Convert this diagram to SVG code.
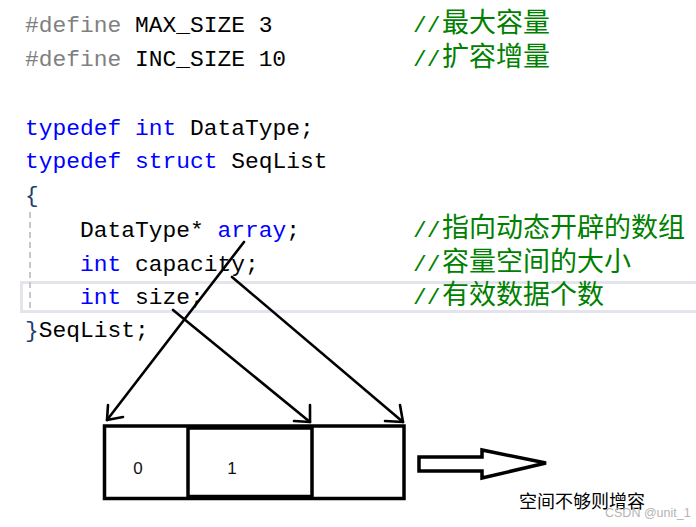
<svg xmlns="http://www.w3.org/2000/svg" width="696" height="527" viewBox="0 0 696 527">
<style>
.code{font-family:"Liberation Mono","DejaVu Sans Mono",monospace;font-size:22.9px;fill:#000}
.pp{fill:#808080}
.kw{fill:#0000ff}
.br{fill:#1f3d6e}
.cm{fill:#008000}
.cjk{font-family:"Noto Sans CJK SC",sans-serif;font-size:27px;fill:#008000}
.ln{stroke:#000;stroke-width:2.6;fill:none;stroke-linecap:round;stroke-linejoin:round}
.box{stroke:#000;stroke-width:3.5;fill:none}
.num{font-family:"Liberation Sans",Arial,sans-serif;font-size:17px;fill:#111;text-anchor:middle}
</style>
<rect width="696" height="527" fill="#fff"/>
<g id="code">
<rect x="21.5" y="282.5" width="680" height="29" fill="none" stroke="#e4e4ec" stroke-width="3"/>
<line x1="30" y1="212" x2="30" y2="312" stroke="#c8c8c8" stroke-width="2" stroke-dasharray="6 4"/>
<text class="code" y="32"><tspan class="pp" x="25">#define</tspan><tspan x="135">MAX_SIZE 3</tspan></text>
<text class="code cm" x="413" y="32">//<tspan class="cjk" dx="1.5">最大容量</tspan></text>
<text class="code" y="65.5"><tspan class="pp" x="25">#define</tspan><tspan x="135">INC_SIZE 10</tspan></text>
<text class="code cm" x="413" y="65.5">//<tspan class="cjk" dx="1.5">扩容增量</tspan></text>
<text class="code" y="135"><tspan class="kw" x="25">typedef</tspan><tspan class="kw" x="135">int</tspan><tspan x="190">DataType;</tspan></text>
<text class="code" y="168"><tspan class="kw" x="25">typedef</tspan><tspan class="kw" x="135">struct</tspan><tspan x="231.25">SeqList</tspan></text>
<text class="code br" x="25" y="202">{</text>
<text class="code" y="237"><tspan x="80">DataType*</tspan><tspan class="kw" x="217.5">array</tspan><tspan x="286.25">;</tspan></text>
<text class="code cm" x="413" y="237">//<tspan class="cjk" dx="1.5">指向动态开辟的数组</tspan></text>
<text class="code" y="270.5"><tspan class="kw" x="80">int</tspan><tspan x="135">capacity;</tspan></text>
<text class="code cm" x="413" y="270.5">//<tspan class="cjk" dx="1.5">容量空间的大小</tspan></text>
<text class="code" y="304"><tspan class="kw" x="80">int</tspan><tspan x="135">size;</tspan></text>
<text class="code cm" x="413" y="304">//<tspan class="cjk" dx="1.5">有效数据个数</tspan></text>
<text class="code" y="337"><tspan class="br" x="25">}</tspan><tspan x="38.75">SeqList;</tspan></text>
</g>
<g id="cells">
<rect class="box" x="104.5" y="426" width="299.5" height="72.5"/>
<rect class="box" x="188" y="428" width="124" height="68.5"/>
<text class="num" x="138" y="474">0</text>
<text class="num" x="232" y="474">1</text>
</g>
<g id="connectors">
<line class="ln" x1="244" y1="242" x2="107" y2="420"/>
<polyline class="ln" points="108,405 107,420 123,417"/>
<line class="ln" x1="173" y1="310" x2="310" y2="422"/>
<polyline class="ln" points="310,405 310,422 294,421"/>
<line class="ln" x1="232" y1="277" x2="403" y2="422"/>
<polyline class="ln" points="400,405 403,422 385,421"/>
</g>
<g id="grow-arrow">
<polygon points="419,457 482,457 482,450 546,463 482,478 482,471 419,471" fill="none" stroke="#000" stroke-width="3.5" stroke-linejoin="miter"/>
</g>
<g id="labels">
<text x="519" y="508" font-family="'Noto Sans CJK SC',sans-serif" font-size="18" fill="#000">空间不够则增容</text>
<text x="605" y="517" font-family="'Liberation Sans',Arial,sans-serif" font-size="12.5" fill="#b4b4b4">CSDN @unit_1</text>
</g>
</svg>
